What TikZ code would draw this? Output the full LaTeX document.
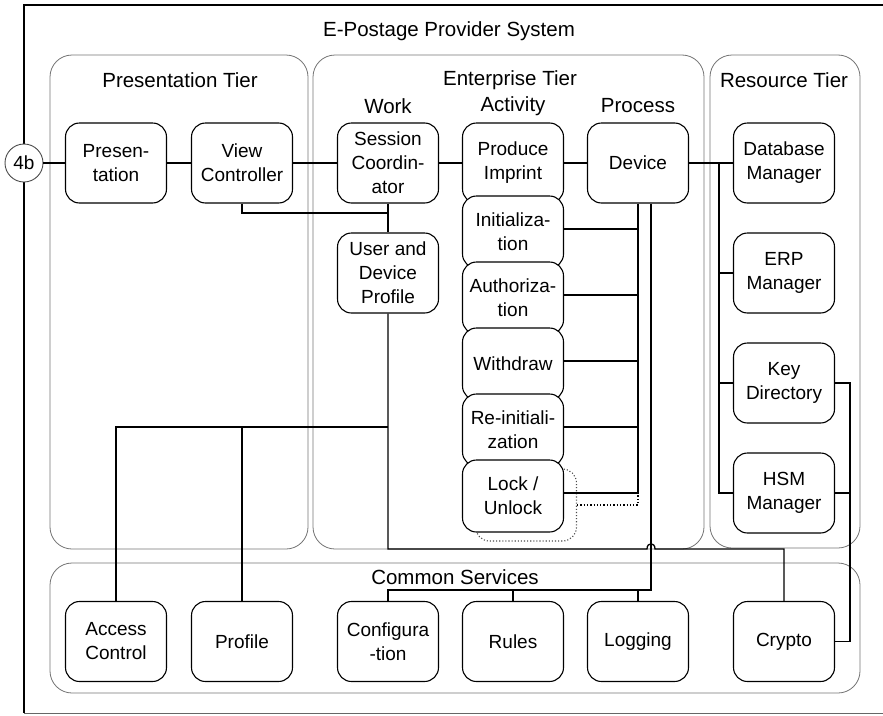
\documentclass[tikz,border=0pt]{standalone}
\usepackage{fontspec}
\setmainfont{Liberation Sans}
\newcommand{\boxfont}{\fontsize{19}{24}\selectfont}
\newcommand{\headfont}{\fontsize{20.5}{24}\selectfont}
\begin{document}
\begin{tikzpicture}[x=1pt,y=-1pt,
  box/.style={draw, line width=1.1pt, rounded corners=14pt, fill=white,
    minimum width=101pt, minimum height=80pt, align=center, inner sep=1pt, font=\boxfont},
  actbox/.style={box, minimum height=72pt},
  shadowbox/.style={draw=black!70, dotted, line width=1.1pt, rounded corners=14pt, fill=white,
    minimum width=101pt, minimum height=72pt},
  tier/.style={draw=black!55, line width=0.8pt, rounded corners=22pt},
  head/.style={font=\headfont, inner sep=0pt},
  wire/.style={line width=1.3pt},
  dotwire/.style={line width=1.3pt, dotted}]
\useasboundingbox (0,0) rectangle (883,715);

% outer frame
\draw[line width=1.5pt] (883,5) -- (24,5) -- (24,713);
\draw[line width=1pt, black!60] (24,713) -- (883,713);
\node[head] (title) at (449,31) {E-Postage Provider System};

% tiers
\draw[tier] (50,55) rectangle (308,549);
\draw[tier] (313,55) rectangle (704,549);
\draw[tier] (710,55) rectangle (860,548);
\draw[tier] (50,563) rectangle (860,693);
\node[head] (tpres) at (180,80) {Presentation Tier};
\node[head] (tent) at (510,80) {Enterprise Tier};
\node[head] (tres) at (784,80) {Resource Tier};
\node[head] (twork) at (388,106) {Work};
\node[head] (tact) at (513,106) {Activity};
\node[head] (tproc) at (638,106) {Process};
\node[head] (tcom) at (455,577) {Common Services};

% presentation and enterprise nodes
\node[circle, draw=black!70, line width=0.9pt, fill=white, minimum size=38pt, inner sep=0pt, font=\boxfont] (c4b) at (24,163) {4b};
\node[box] (pres) at (116,163) {Presen-\\tation};
\node[box] (view) at (242,163) {View\\Controller};
\node[box] (sess) at (388,163) {Session\\Coordin-\\ator};
\node[box] (udp) at (388,273) {User and\\Device\\Profile};
\node[box] (prod) at (513,163) {Produce\\Imprint};
\node[box] (dev) at (638,163) {Device};

% activity stack
\node[actbox] (init) at (513,232) {Initializa-\\tion};
\node[actbox] (auth) at (513,298) {Authoriza-\\tion};
\node[actbox] (wdr) at (513,364) {Withdraw};
\node[actbox] (reinit) at (513,430) {Re-initiali-\\zation};
\node[shadowbox] (lockb) at (526,505) {};
\node[actbox] (lock) at (513,496) {Lock /\\Unlock};

% resource nodes
\node[box] (db) at (784,163) {Database\\Manager};
\node[box] (erp) at (784,273) {ERP\\Manager};
\node[box] (key) at (784,383) {Key\\Directory};
\node[box] (hsm) at (784,493) {HSM\\Manager};

% common services
\node[box] (acc) at (116,641.5) {Access\\Control};
\node[box] (prof) at (242,641.5) {Profile};
\node[box] (conf) at (388,641.5) {Configura\\-tion};
\node[box] (rules) at (513,641.5) {Rules};
\node[box] (logg) at (638,641.5) {Logging};
\node[box] (crypto) at (784,641.5) {Crypto};

% junction points
\coordinate (vj) at (388,213);
\coordinate (pj) at (388,427);
\coordinate (abus) at (638,493);
\coordinate (dbus) at (638,505);
\coordinate (cj) at (651,590);
\coordinate (h1) at (647,549);
\coordinate (h2) at (655,549);
\coordinate (rbus) at (719,163);
\coordinate (kx) at (850,383);

% main chain
\draw[wire] (c4b) -- (pres) -- (view) -- (sess) -- (prod) -- (dev) -- (db);
\draw[wire] (view.south) |- (vj);
\draw[wire] (sess.south) -- (udp.north);
\draw[wire] (udp.south) -- (udp.south |- h1) -- (h1)
  .. controls ([yshift=7pt]h1) and ([yshift=7pt]h2) .. (h2) -- (h2 -| crypto.north) -- (crypto.north);
\draw[wire] (acc.north) |- (pj);
\draw[wire] (prof.north) -- (prof.north |- pj);

% activity bus
\draw[wire] (dev.south) -- (abus);
\foreach \n in {init,auth,wdr,reinit,lock}
  \draw[wire] ([yshift=3pt]\n.east) -- ([yshift=3pt]\n.east -| abus);
\draw[dotwire] (lockb.east) -- (dbus) -- (abus);

% common services bus
\draw[wire] ([xshift=13pt]dev.south) -- (cj) -- (cj -| conf.north) -- (conf.north);
\draw[wire] (rules.north) -- (rules.north |- cj);
\draw[wire] (logg.north) -- (logg.north |- cj);

% resource bus
\draw[wire] (rbus) |- (hsm.west);
\draw[wire] (erp.west) -- (erp.west -| rbus);
\draw[wire] (key.west) -- (key.west -| rbus);
\draw[wire] (key.east) -- (kx) |- (crypto.east);
\draw[wire] (hsm.east) -- (hsm.east -| kx);
\end{tikzpicture}
\end{document}
